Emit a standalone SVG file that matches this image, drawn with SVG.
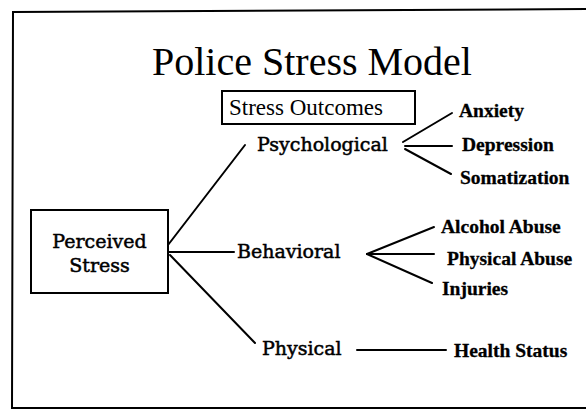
<svg xmlns="http://www.w3.org/2000/svg" width="586" height="410" viewBox="0 0 586 410">
  <style>
    .frame { fill: none; stroke: #000; stroke-width: 2; }
    .box { fill: #fff; stroke: #000; stroke-width: 2; }
    .link { fill: none; stroke: #000; stroke-width: 2; stroke-linecap: round; }
    .title { font-family: "Liberation Serif", "Times New Roman", serif; font-size: 40px; fill: #000; }
    .head { font-family: "Liberation Serif", "Times New Roman", serif; font-size: 23px; fill: #000; }
    .mid { font-family: "DejaVu Serif", "Liberation Serif", serif; font-size: 19px; fill: #000; stroke: #000; stroke-width: 0.5; }
    .leaf { font-family: "Liberation Serif", "Times New Roman", serif; font-size: 19.5px; font-weight: bold; fill: #000; stroke: #000; stroke-width: 0.3; }
  </style>

  <rect width="586" height="410" fill="#fff"/>

  <!-- page frame, cut off at the right -->
  <path class="frame" d="M586 9 L13 12 L12 408 L586 408"/>

  <!-- heading -->
  <text class="title" x="312" y="75" text-anchor="middle">Police Stress Model</text>

  <!-- connectors -->
  <g id="connectors">
    <!-- from Perceived Stress -->
    <path class="link" d="M168 245 L245 145"/>
    <path class="link" d="M169 252 L234 252"/>
    <path class="link" d="M170 255 L255 343"/>
    <!-- psychological outcomes -->
    <path class="link" d="M403 142 L452 113"/>
    <path class="link" d="M405 146 L452 146"/>
    <path class="link" d="M405 149 L451 174"/>
    <!-- behavioral outcomes -->
    <path class="link" d="M367 254 L434 227"/>
    <path class="link" d="M367 254 L434 254"/>
    <path class="link" d="M367 254 L432 283"/>
    <!-- physical outcome -->
    <path class="link" d="M357 350 L446 350"/>
  </g>

  <g id="stress-outcomes">
    <rect class="box" x="222" y="91" width="193" height="33"/>
    <text class="head" x="229" y="115">Stress Outcomes</text>
  </g>

  <g id="perceived-stress">
    <rect class="box" x="31" y="210" width="137" height="83"/>
    <text class="mid" x="99.5" y="248" text-anchor="middle">Perceived</text>
    <text class="mid" x="99.5" y="272" text-anchor="middle">Stress</text>
  </g>

  <g id="psychological">
    <text class="mid" x="257" y="151">Psychological</text>
  </g>
  <g id="behavioral">
    <text class="mid" x="237" y="258">Behavioral</text>
  </g>
  <g id="physical">
    <text class="mid" x="262" y="355">Physical</text>
  </g>

  <g id="anxiety"><text class="leaf" x="459" y="117">Anxiety</text></g>
  <g id="depression"><text class="leaf" x="462" y="151">Depression</text></g>
  <g id="somatization"><text class="leaf" x="460" y="184">Somatization</text></g>
  <g id="alcohol-abuse"><text class="leaf" x="441" y="233">Alcohol Abuse</text></g>
  <g id="physical-abuse"><text class="leaf" x="447" y="265">Physical Abuse</text></g>
  <g id="injuries"><text class="leaf" x="442" y="295">Injuries</text></g>
  <g id="health-status"><text class="leaf" x="454" y="357">Health Status</text></g>
</svg>
